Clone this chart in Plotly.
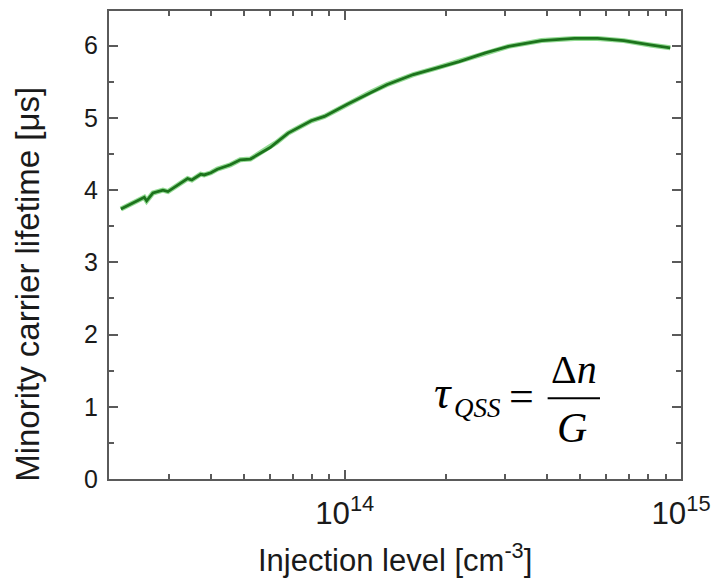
import plotly.graph_objects as go

# ---- data ----
injection_cm3 = [2.16e13, 2.43e13, 2.535e13, 2.576e13, 2.69e13, 2.88e13, 2.98e13, 3.41e13,
                 3.51e13, 3.73e13, 3.82e13, 4.0e13, 4.18e13, 4.57e13, 4.89e13, 5.24e13,
                 6.0e13, 6.27e13, 6.79e13, 7.95e13, 8.7e13, 1.018e14, 1.19e14, 1.334e14,
                 1.60e14, 1.87e14, 2.19e14, 2.62e14, 3.07e14, 3.85e14, 4.82e14, 5.65e14,
                 6.76e14, 8.10e14, 9.29e14]
lifetime_us = [3.74, 3.85, 3.90, 3.85, 3.96, 4.00, 3.98, 4.16,
               4.14, 4.22, 4.21, 4.24, 4.29, 4.35, 4.42, 4.43,
               4.59, 4.66, 4.79, 4.96, 5.02, 5.19, 5.35, 5.46,
               5.60, 5.69, 5.78, 5.90, 5.99, 6.07, 6.10, 6.10,
               6.07, 6.01, 5.97]
y_tick_values = [0, 1, 2, 3, 4, 5, 6]
x_title = "Injection level [cm<sup>-3</sup>]"
y_title = "Minority carrier lifetime [\u03bcs]"

W, H = 720, 578
L, R, T, B = 109, 32, 9, 99
PW, PH = W - L - R, H - T - B


def px(x):
    return (x - L) / PW


def py(y):
    return (H - B - y) / PH


fig = go.Figure()
fig.add_trace(go.Scatter(x=injection_cm3, y=lifetime_us, mode="lines",
                         line=dict(color="#4cc24c", width=5), opacity=0.6,
                         hoverinfo="skip", showlegend=False))
fig.add_trace(go.Scatter(x=injection_cm3, y=lifetime_us, mode="lines",
                         line=dict(color="#1c731c", width=2.8), showlegend=False))

axis_common = dict(showline=True, linecolor="#5a5a5a", linewidth=2, mirror="ticks",
                   ticks="inside", tickcolor="#5a5a5a", tickwidth=2, ticklen=9,
                   showgrid=False, zeroline=False,
                   tickfont=dict(family="Liberation Sans, Arial", size=25, color="#1a1a1a"))

fig.update_xaxes(type="log", range=[13.299, 15.0], dtick=1, exponentformat="power",
                 minor=dict(ticks="inside", ticklen=5, tickwidth=2, tickcolor="#5a5a5a",
                            dtick="D1", showgrid=False),
                 ticklabelstandoff=7, **axis_common)
fig.update_yaxes(range=[0, 6.48], tickvals=y_tick_values,
                 minor=dict(ticks="inside", ticklen=5, tickwidth=2, tickcolor="#5a5a5a",
                            dtick=0.5, showgrid=False),
                 ticklabelstandoff=4, **axis_common)

title_font = dict(family="Liberation Sans, Arial", size=31, color="#1a1a1a")
ytitle_font = dict(family="Liberation Sans, Arial", size=33, color="#1a1a1a")
serif = "Liberation Serif, Times New Roman"
ann = [
    dict(text=x_title, x=px(398), y=py(558), font=title_font),
    dict(text=y_title, x=px(27), y=py(283), textangle=-90, font=ytitle_font),
    dict(text="<i>\u03c4</i>", x=px(447), y=py(392), font=dict(family=serif, size=46, color="black")),
    dict(text="<i>QSS</i>", x=px(482), y=py(408), font=dict(family=serif, size=27, color="black")),
    dict(text="=", x=px(527), y=py(396), font=dict(family=serif, size=44, color="black")),
    dict(text="\u0394<i>n</i>", x=px(580), y=py(369), font=dict(family=serif, size=40, color="black")),
    dict(text="<i>G</i>", x=px(578), y=py(428), font=dict(family=serif, size=42, color="black")),
]
for a in ann:
    a.update(xref="paper", yref="paper", showarrow=False, xanchor="center", yanchor="middle")
fig.update_layout(annotations=ann)
fig.add_shape(type="line", xref="paper", yref="paper", x0=px(553), x1=px(606),
              y0=py(398), y1=py(398), line=dict(color="black", width=2))

fig.update_layout(width=W, height=H, margin=dict(l=L, r=R, t=T, b=B),
                  plot_bgcolor="white", paper_bgcolor="white", showlegend=False)

fig.write_html("out.html")
